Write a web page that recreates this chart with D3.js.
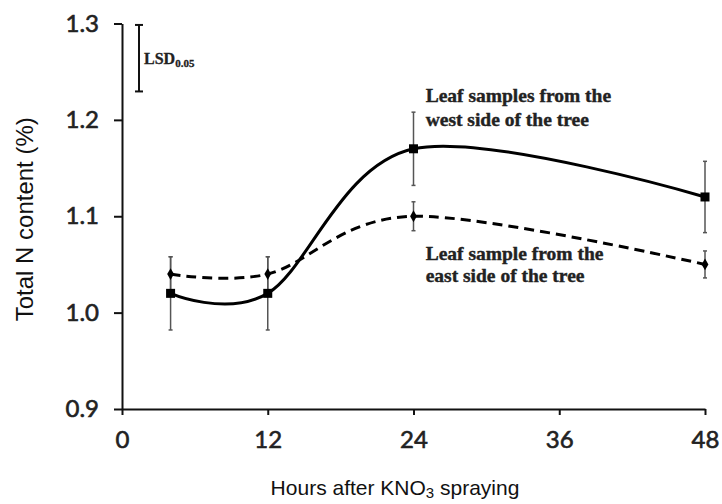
<!DOCTYPE html>
<html>
<head>
<meta charset="utf-8">
<script src="https://cdn.jsdelivr.net/npm/d3@7"></script>
<style>
  html, body { margin: 0; padding: 0; background: #fff; }
  svg { display: block; }
</style>
</head>
<body>
<svg id="chart" width="722" height="504"></svg>
<script>
// ---- data ----
const hours = [4, 12, 24, 48];
const westValues = [1.02, 1.02, 1.17, 1.12];
const westErrors = [0.038, 0.038, 0.038, 0.037];
const eastValues = [1.04, 1.04, 1.10, 1.05];
const eastErrors = [0.018, 0.018, 0.015, 0.014];
const xTickValues = [0, 12, 24, 36, 48];
const yTickValues = [0.9, 1.0, 1.1, 1.2, 1.3];
const yTickLabels = ["0.9", "1.0", "1.1", "1.2", "1.3"];
const lsdValue = 0.069;
const westLabel = ["Leaf samples from the", "west side of the tree"];
const eastLabel = ["Leaf sample from the", "east side of the tree"];
const xTitle = ["Hours after KNO", "3", " spraying"];
const yTitle = "Total N content (%)";

// ---- layout ----
const svg = d3.select("#chart");
const x = d3.scaleLinear().domain([0, 48]).range([122, 705]);
const y = d3.scaleLinear().domain([0.9, 1.3]).range([409, 23.5]);

const west = hours.map((h, i) => ({ h, v: westValues[i], e: westErrors[i] }));
const east = hours.map((h, i) => ({ h, v: eastValues[i], e: eastErrors[i] }));

// ---- axes ----
const yAxis = d3.axisLeft(y).tickValues(yTickValues)
  .tickFormat((d, i) => yTickLabels[i]).tickSizeInner(8).tickSizeOuter(0).tickPadding(15);
const gy = svg.append("g").attr("transform", `translate(${x(0)},0)`).call(yAxis);

const xAxis = d3.axisBottom(x).tickValues(xTickValues)
  .tickFormat(d3.format("d")).tickSizeInner(6).tickSizeOuter(0).tickPadding(16);
const gx = svg.append("g").attr("transform", `translate(0,${y(0.9)})`).call(xAxis);

[gx, gy].forEach(g => {
  g.select(".domain").attr("stroke", "#111").attr("stroke-width", 2);
  g.selectAll(".tick line").attr("stroke", "#111").attr("stroke-width", 2);
  g.selectAll(".tick text").attr("fill", "#222").attr("stroke", "#222").attr("stroke-width", 0.6)
    .style("font-family", "Lato, 'Open Sans', sans-serif").style("font-size", "24px");
});

// ---- error bars ----
function errorBars(data, cls) {
  const g = svg.append("g").attr("class", cls).attr("stroke", "#555").attr("stroke-width", 1.5);
  g.selectAll("line.v").data(data).join("line").attr("class", "v")
    .attr("x1", d => x(d.h)).attr("x2", d => x(d.h))
    .attr("y1", d => y(d.v - d.e)).attr("y2", d => y(d.v + d.e));
  g.selectAll("line.t").data(data).join("line").attr("class", "t")
    .attr("x1", d => x(d.h) - 2).attr("x2", d => x(d.h) + 2)
    .attr("y1", d => y(d.v + d.e)).attr("y2", d => y(d.v + d.e));
  g.selectAll("line.b").data(data).join("line").attr("class", "b")
    .attr("x1", d => x(d.h) - 2).attr("x2", d => x(d.h) + 2)
    .attr("y1", d => y(d.v - d.e)).attr("y2", d => y(d.v - d.e));
}
errorBars(east, "east-err");
errorBars(west, "west-err");

// ---- lines ----
const line = d3.line().x(d => x(d.h)).y(d => y(d.v)).curve(d3.curveCatmullRom.alpha(0));
svg.append("path").datum(west).attr("d", line)
  .attr("fill", "none").attr("stroke", "#000").attr("stroke-width", 3);
svg.append("path").datum(east).attr("d", line)
  .attr("fill", "none").attr("stroke", "#000").attr("stroke-width", 3)
  .attr("stroke-dasharray", "10,6");

// markers
svg.append("g").selectAll("rect").data(west).join("rect")
  .attr("x", d => x(d.h) - 4.5).attr("y", d => y(d.v) - 4.5)
  .attr("width", 9).attr("height", 9).attr("fill", "#000");
svg.append("g").selectAll("path").data(east).join("path")
  .attr("transform", d => `translate(${x(d.h)},${y(d.v)})`)
  .attr("d", d3.symbol().type(d3.symbolDiamond).size(40)).attr("fill", "#000");

// ---- LSD bar ----
const lsdX = x(1.4);
const lsdTop = 1.2985;
const lsdG = svg.append("g").attr("stroke", "#111").attr("stroke-width", 2);
lsdG.append("line").attr("x1", lsdX).attr("x2", lsdX).attr("y1", y(lsdTop)).attr("y2", y(lsdTop - lsdValue));
lsdG.append("line").attr("x1", lsdX - 4).attr("x2", lsdX + 4).attr("y1", y(lsdTop)).attr("y2", y(lsdTop));
lsdG.append("line").attr("x1", lsdX - 4).attr("x2", lsdX + 4).attr("y1", y(lsdTop - lsdValue)).attr("y2", y(lsdTop - lsdValue));
const lsdText = svg.append("text").attr("x", lsdX + 5).attr("y", y(lsdTop - lsdValue / 2) + 6)
  .attr("fill", "#222").attr("stroke", "#222").attr("stroke-width", 0.3)
  .style("font-family", "'Liberation Serif', serif").style("font-weight", "bold")
  .style("font-size", "16px");
lsdText.append("tspan").text("LSD");
lsdText.append("tspan").attr("dy", 3).style("font-size", "11px").text("0.05");

// ---- annotations ----
function annotate(lines, hx, v, spacing) {
  const t = svg.append("text").attr("fill", "#222").attr("stroke", "#222").attr("stroke-width", 0.4)
    .style("font-family", "'Liberation Serif', serif").style("font-weight", "bold")
    .style("font-size", "19.5px");
  lines.forEach((s, i) => {
    t.append("tspan").attr("x", x(hx)).attr("y", y(v) + i * spacing).text(s);
  });
}
annotate(westLabel, 25, 1.2185, 24);
annotate(eastLabel, 25, 1.0545, 22);

// ---- axis titles ----
const xt = svg.append("text").attr("x", 395).attr("y", 495).attr("text-anchor", "middle")
  .attr("fill", "#111").style("font-family", "'Liberation Sans', Arial, sans-serif").style("font-size", "21px");
xt.append("tspan").text(xTitle[0]);
xt.append("tspan").attr("dy", 3).style("font-size", "15px").text(xTitle[1]);
xt.append("tspan").attr("dy", -3).text(xTitle[2]);

svg.append("text").attr("transform", `translate(33,${y(1.1) + 3}) rotate(-90)`)
  .attr("text-anchor", "middle").attr("fill", "#111")
  .style("font-family", "'Liberation Sans', Arial, sans-serif").style("font-size", "24px")
  .text(yTitle);
</script>
</body>
</html>
